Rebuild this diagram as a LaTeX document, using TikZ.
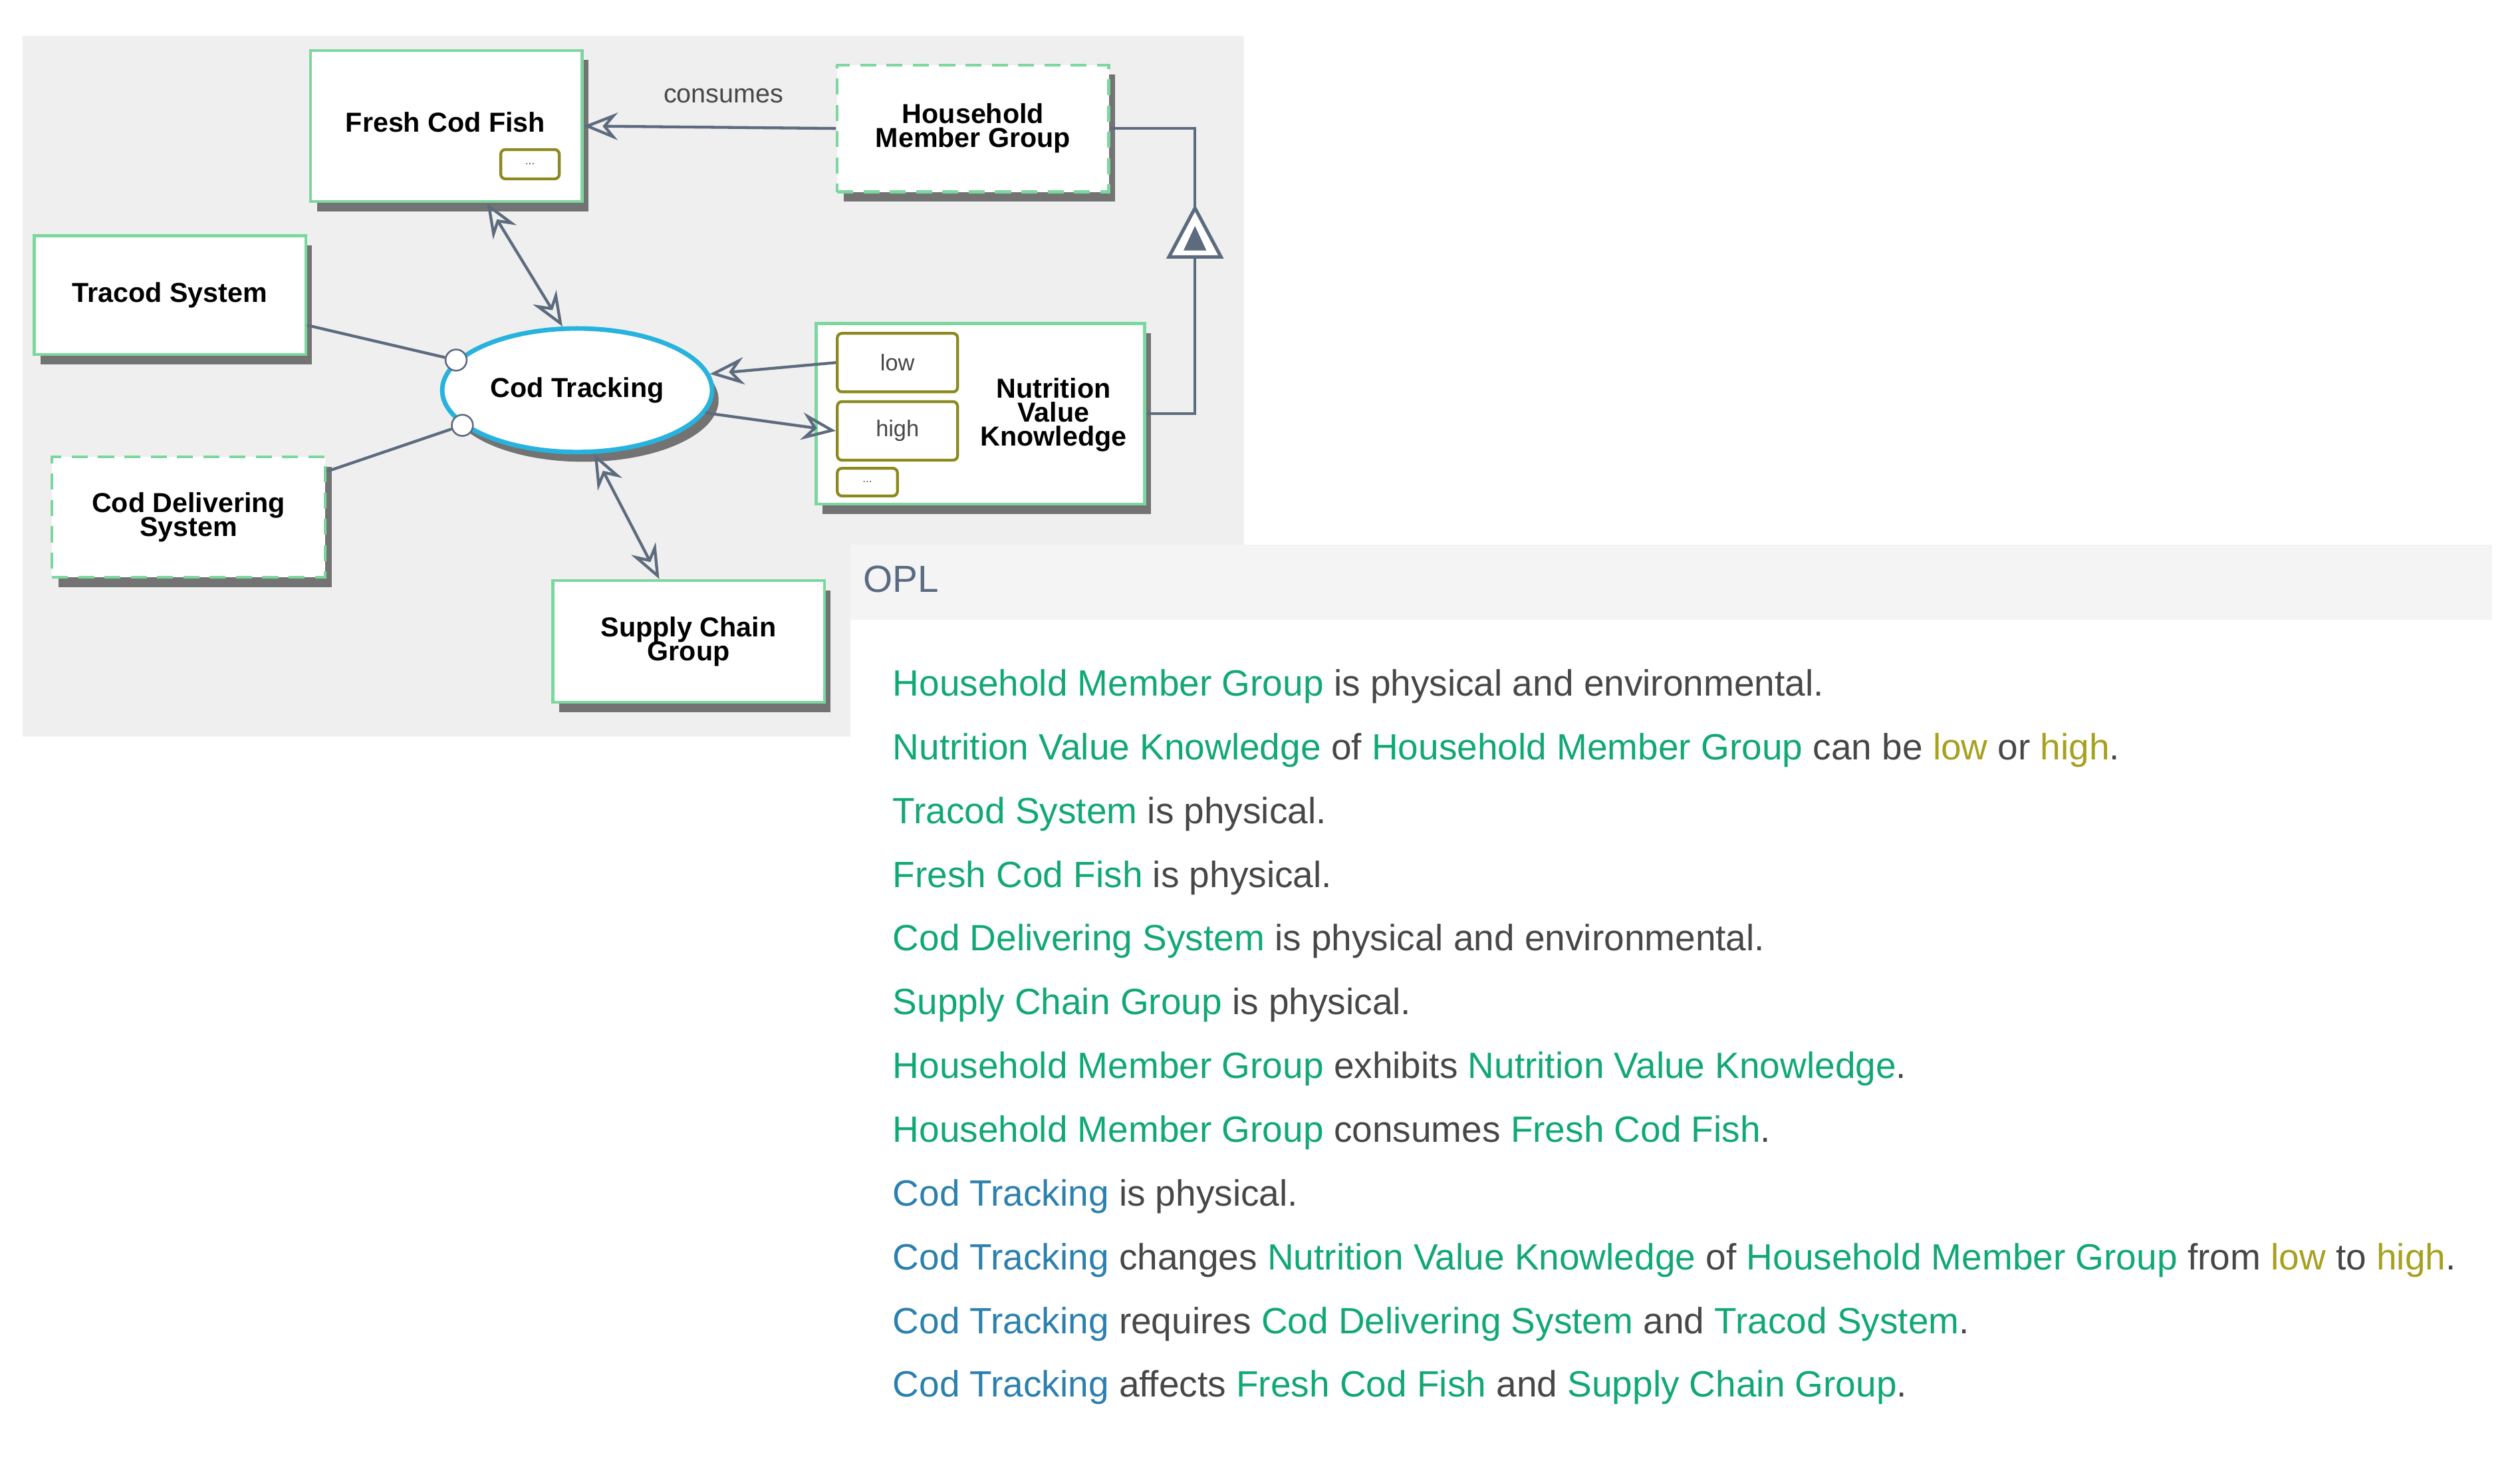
\documentclass[tikz,border=0pt]{standalone}
\usepackage{fontspec}
\setmainfont{Liberation Sans}
\usetikzlibrary{arrows.meta,shadows,calc,shapes.geometric}
\definecolor{bg}{HTML}{EFEFEF}
\definecolor{hdr}{HTML}{F4F4F4}
\definecolor{bgreen}{HTML}{7CD79E}
\definecolor{olive}{HTML}{8C8A1E}
\definecolor{tgreen}{HTML}{12A876}
\definecolor{tblue}{HTML}{2C80AE}
\definecolor{tolive}{HTML}{A8A020}
\definecolor{tgray}{HTML}{474747}
\definecolor{cyanb}{HTML}{27B3DE}
\definecolor{lnk}{HTML}{5D6B7E}
\definecolor{opl}{HTML}{5A6A80}
\newcommand\dfont{\fontsize{24}{26}\selectfont\bfseries}
\newcommand\ofont{\fontsize{32}{36}\selectfont}
\newcommand\G[1]{\textcolor{tgreen}{#1}}
\newcommand\B[1]{\textcolor{tblue}{#1}}
\newcommand\Y[1]{\textcolor{tolive}{#1}}
\begin{document}
\begin{tikzpicture}[x=0.05cm,y=0.05cm,
  shd/.style={drop shadow={shadow xshift=0.2cm,shadow yshift=-0.3cm,fill=gray!90!black,opacity=1}},
  obj/.style={draw=bgreen,line width=2.5pt,fill=white,shd,align=center,font=\dfont,inner sep=0},
  env/.style={obj,dashed,dash pattern=on 14pt off 9pt},
  st/.style={draw=olive,line width=2.5pt,fill=white,rounded corners=4pt,inner sep=0,font=\fontsize{20}{22}\selectfont,text=tgray},
  lk/.style={draw=lnk,line width=2.5pt},
  tip/.tip={Stealth[open,length=30pt,width=24pt,inset=10pt]},
  hd/.style={-tip},
  hh/.style={tip-tip},
  oline/.style={anchor=base west,font=\ofont,text=tgray,inner sep=0}]
\useasboundingbox (0,0) rectangle (1550,-898.5);
\fill[white] (0,0) rectangle (1550,-898.5);
\fill[bg] (14,-22) -- (765,-22) -- (765,-335) -- (523,-335) -- (523,-453) -- (14,-453) -- cycle;
\fill[hdr] (523,-335) rectangle (1533,-381);
% objects
\node[obj,minimum width=8.35cm,minimum height=4.65cm] (FCF) at (274.5,-77.5) {};
\node[font=\dfont] at (274,-75) {Fresh Cod Fish};
\node[st,minimum width=1.8cm,minimum height=0.9cm] (fd) at (326,-101) {\fontsize{10}{10}\selectfont...};
\node[env,minimum width=8.35cm,minimum height=3.9cm] (HMG) at (598.5,-79) {Household\\[-5pt]Member Group};
\node[obj,minimum width=8.35cm,minimum height=3.65cm] (TS) at (104.5,-181.5) {Tracod System};
\node[env,minimum width=8.4cm,minimum height=3.7cm] (CDS) at (116,-318) {Cod Delivering\\[-5pt]System};
\node[obj,minimum width=8.35cm,minimum height=3.75cm] (SCG) at (423.5,-394.5) {Supply Chain\\[-5pt]Group};
\node[obj,minimum width=10.1cm,minimum height=5.55cm] (NVK) at (603,-254.5) {};
\node[font=\dfont,align=center] at (648,-255) {Nutrition\\[-5pt]Value\\[-5pt]Knowledge};
\node[st,minimum width=3.7cm,minimum height=1.8cm] (low) at (552,-223) {low};
\node[st,minimum width=3.7cm,minimum height=1.8cm] (high) at (552,-265) {high};
\node[st,minimum width=1.85cm,minimum height=0.85cm] (nd) at (533.5,-296.5) {\fontsize{10}{10}\selectfont...};
\node[ellipse,draw=cyanb,line width=4pt,fill=white,shd,minimum width=8.3cm,minimum height=3.8cm,font=\dfont] (CT) at (355,-240) {Cod Tracking};
% consumes
\draw[lk,hd] (HMG.west) -- (FCF.east);
\node[font=\fontsize{23}{25}\selectfont,text=tgray] (lbl) at (445,-59) {consumes};
% exhibition
\coordinate (tTop) at (735,-128);
\coordinate (tBot) at (735,-158);
\draw[lk] (HMG.east) -| (tTop);
\draw[lk] (tBot) |- (NVK.east);
\draw[draw=lnk,line width=3pt,fill=white] (tTop) -- (751,-158) -- (719,-158) -- cycle;
\fill[lnk] (735,-139) -- (742,-154) -- (728,-154) -- cycle;
% effects
\coordinate (f1) at ($(FCF.south)+(25,0)$);
\coordinate (f2) at (CT.103);
\draw[lk,hh] (f1) -- (f2);
\coordinate (s1) at (CT.-75);
\coordinate (s2) at ($(SCG.north)+(-18,0)$);
\draw[lk,hh] (s1) -- (s2);
% changes
\draw[lk,hd] (low.west) -- (CT.7);
\draw[lk,hd] (CT.-10) -- (high.west);
% instruments
\node[circle,draw=lnk,line width=1.5pt,fill=white,inner sep=0,minimum size=0.65cm] (c1) at (CT.166) {};
\node[circle,draw=lnk,line width=1.5pt,fill=white,inner sep=0,minimum size=0.65cm] (c2) at (CT.197) {};
\coordinate (t1) at ($(TS.east)+(0,-18.5)$);
\coordinate (d1) at ($(CDS.east)+(0,28)$);
\draw[lk] (t1) -- (c1);
\draw[lk] (d1) -- (c2);
% OPL
\node[anchor=base west,font=\fontsize{33}{36}\selectfont,text=opl,inner sep=0] (oplh) at (531,-364) {OPL};
\node[oline] (o1) at (549,-428) {\G{Household Member Group} is physical and environmental.};
\node[oline] (o2) at (549,-467.2) {\G{Nutrition Value Knowledge} of \G{Household Member Group} can be \Y{low} or \Y{high}.};
\node[oline] (o3) at (549,-506.4) {\G{Tracod System} is physical.};
\node[oline] (o4) at (549,-545.6) {\G{Fresh Cod Fish} is physical.};
\node[oline] (o5) at (549,-584.8) {\G{Cod Delivering System} is physical and environmental.};
\node[oline] (o6) at (549,-624) {\G{Supply Chain Group} is physical.};
\node[oline] (o7) at (549,-663.2) {\G{Household Member Group} exhibits \G{Nutrition Value Knowledge}.};
\node[oline] (o8) at (549,-702.4) {\G{Household Member Group} consumes \G{Fresh Cod Fish}.};
\node[oline] (o9) at (549,-741.6) {\B{Cod Tracking} is physical.};
\node[oline] (o10) at (549,-780.8) {\B{Cod Tracking} changes \G{Nutrition Value Knowledge} of \G{Household Member Group} from \Y{low} to \Y{high}.};
\node[oline] (o11) at (549,-820) {\B{Cod Tracking} requires \G{Cod Delivering System} and \G{Tracod System}.};
\node[oline] (o12) at (549,-859.2) {\B{Cod Tracking} affects \G{Fresh Cod Fish} and \G{Supply Chain Group}.};
\end{tikzpicture}
\end{document}
